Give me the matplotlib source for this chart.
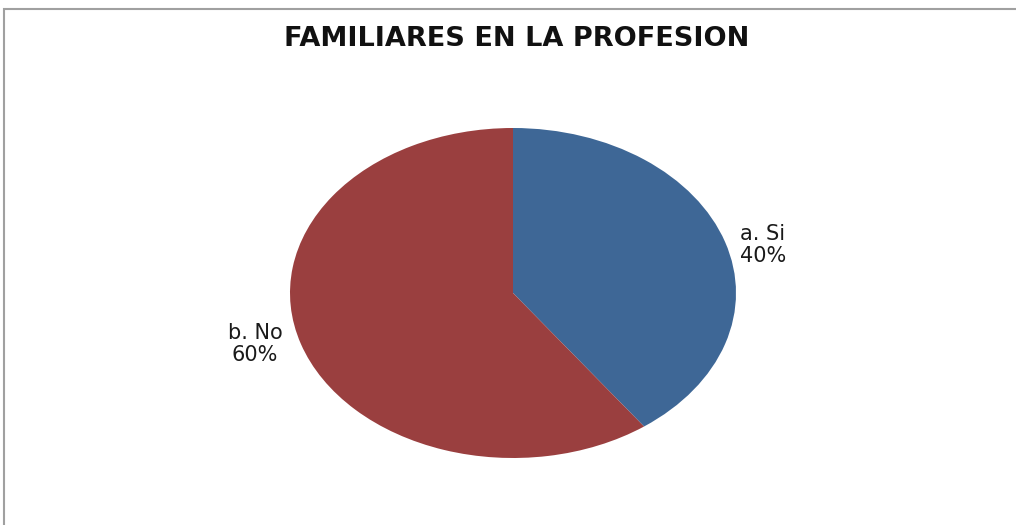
import matplotlib
matplotlib.use("Agg")
import matplotlib.pyplot as plt
from matplotlib.patches import Rectangle

categories = ["a. Si", "b. No"]
values = [40, 60]
colors = ["#3E6796", "#9A3F3F"]

W, H = 1016, 525
fig = plt.figure(figsize=(W / 100, H / 100), dpi=100)
ax = fig.add_axes([0, 0, 1, 1])

cx, cy = 513, 293  # pixels from top-left
rx, ry = 223, 165
ax.pie(values, colors=colors, startangle=90, counterclock=False, radius=1,
       wedgeprops=dict(linewidth=0))
ax.set_aspect("auto")
ax.set_xlim(-cx / rx, (W - cx) / rx)
ax.set_ylim(-(H - cy) / ry, cy / ry)
ax.axis("off")

# labels
label_pos = [(763, 245), (255, 344)]
for cat, v, (px, py) in zip(categories, values, label_pos):
    fig.text(px / W, 1 - py / H, f"{cat}\n{v}%", ha="center", va="center",
             multialignment="center", fontsize=15, color="#1a1a1a",
             family="DejaVu Sans", linespacing=1.15)

fig.text(517 / W, 1 - 39 / H, "FAMILIARES EN LA PROFESION", ha="center",
         va="center", fontsize=19.5, fontweight="bold", family="DejaVu Sans",
         color="#111111")

# border
fig.patches.append(Rectangle((4 / W, -0.1), 1.2, 1 - 9 / H + 0.1,
                             transform=fig.transFigure, fill=False,
                             edgecolor="#A0A0A0", linewidth=1.5))

fig.savefig("out.png", dpi=100)
